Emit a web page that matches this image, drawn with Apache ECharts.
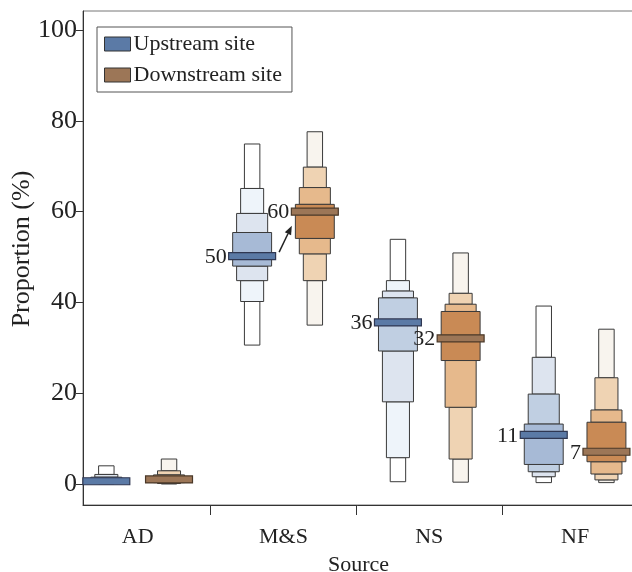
<!DOCTYPE html>
<html>
<head>
<meta charset="utf-8">
<title>Source proportions</title>
<script src="https://cdn.jsdelivr.net/npm/echarts@6/dist/echarts.min.js"></script>
<style>
  html, body { margin: 0; padding: 0; background: #fff; }
  #chart { width: 632px; height: 572px; }
</style>
</head>
<body>
<div id="chart"></div>
<script>
// x categories and the two sites
const categories = ['AD', 'M&S', 'NS', 'NF'];
const sites = ['Upstream site', 'Downstream site'];

// medians (%)
const upMedian = [0.6, 50.2, 35.6, 10.8];
const downMedian = [1.0, 60.0, 32.1, 7.1];
const upLabels = [null, '50', '36', '11'];
const downLabels = [null, '60', '32', '7'];

// letter value edges, top to bottom:
// outer top, 3rd top, 2nd top, inner top | inner bottom, 2nd bottom, 3rd bottom, outer bottom
const upEdges = [
  [4.0, 2.1, 1.5, 1.1, 0.3, 0.2, 0.1, 0.0],
  [74.9, 65.1, 59.6, 55.4, 48.0, 44.8, 40.2, 30.6],
  [53.9, 44.8, 42.5, 41.0, 29.3, 18.1, 5.8, 0.5],
  [39.2, 27.9, 19.8, 13.2, 4.3, 2.7, 1.6, 0.3]
];
const downEdges = [
  [5.5, 2.9, 2.0, 1.5, 0.6, 0.3, 0.1, 0.0],
  [77.6, 69.8, 65.3, 61.6, 54.1, 50.7, 44.8, 35.0],
  [50.9, 42.0, 39.6, 38.0, 27.2, 16.9, 5.5, 0.4],
  [34.1, 23.4, 16.3, 13.6, 4.9, 2.2, 0.9, 0.3]
];

const yTicks = [0, 20, 40, 60, 80, 100];

// styles
const FONT = '"Liberation Serif", "Times New Roman", serif';
const TXT = '#222';
const upShades = ['#ffffff', '#eef4fa', '#dde4ef', '#c0cfe2', '#a7bad6'];
const downShades = ['#f8f4ee', '#efd3b3', '#e6b98c', '#d9a06c', '#c98a55'];
// shade index per level (outer, 3rd, 2nd, inner) for each category
const upLevelShade = [[0, 2, 3, 4], [0, 1, 2, 4], [0, 1, 2, 3], [0, 2, 3, 4]];
const downLevelShade = [[0, 1, 2, 4], [0, 1, 2, 4], [0, 1, 2, 4], [0, 1, 2, 4]];
const levelWidth = [0.106, 0.158, 0.213, 0.267]; // category units
const medianWidth = 0.322;
const dodge = 0.215;
const siteColor = ['#5b7aa6', '#9c7657'];
const siteEdge = ['#2f3752', '#4a3828'];

function boxenItem(site) {
  const shades = site === 0 ? upShades : downShades;
  const levelShade = site === 0 ? upLevelShade : downLevelShade;
  const labels = site === 0 ? upLabels : downLabels;
  return function (params, api) {
    const cat = api.value(0);
    const x = cat + (site === 0 ? -dodge : dodge);
    const unit = api.size([1, 0])[0];
    const lvl = [0, 1, 2, 3, 2, 1, 0];
    const order = [0, 6, 1, 5, 2, 4, 3]; // outer boxes first
    const children = [];
    order.forEach(function (i) {
      const top = api.coord([x, api.value(2 + i)]);
      const bot = api.coord([x, api.value(3 + i)]);
      const w = levelWidth[lvl[i]] * unit;
      children.push({
        type: 'rect',
        shape: { x: top[0] - w / 2, y: top[1], width: w, height: bot[1] - top[1] },
        style: { fill: shades[levelShade[cat][lvl[i]]], stroke: '#3a3a3a', lineWidth: 1 }
      });
    });
    const m = api.coord([x, api.value(1)]);
    const mw = medianWidth * unit;
    children.push({
      type: 'rect',
      shape: { x: m[0] - mw / 2, y: m[1] - 3.5, width: mw, height: 7 },
      style: { fill: siteColor[site], stroke: siteEdge[site], lineWidth: 1.2 }
    });
    if (labels[cat]) {
      children.push({
        type: 'text',
        x: m[0] - mw / 2 - 2,
        y: m[1] + 1,
        style: {
          text: labels[cat], fill: TXT, font: '22px ' + FONT,
          align: 'right', verticalAlign: 'middle'
        }
      });
    }
    return { type: 'group', children: children };
  };
}

function arrowItem(params, api) {
  const cat = api.value(0);
  const a = api.coord([cat - dodge, api.value(1)]);
  const b = api.coord([cat + dodge, api.value(2)]);
  const x1 = a[0] + 27, y1 = a[1] - 4;
  const x2 = b[0] - 23, y2 = b[1] + 14;
  const ang = Math.atan2(y2 - y1, x2 - x1);
  const L = 9, W = 3.5;
  const bx = x2 - L * Math.cos(ang), by = y2 - L * Math.sin(ang);
  const nx = -Math.sin(ang) * W, ny = Math.cos(ang) * W;
  return {
    type: 'group',
    children: [
      { type: 'line', shape: { x1: x1, y1: y1, x2: bx, y2: by }, style: { stroke: '#222', lineWidth: 1.5 } },
      { type: 'polygon', shape: { points: [[x2, y2], [bx + nx, by + ny], [bx - nx, by - ny]] }, style: { fill: '#222' } }
    ]
  };
}

const upData = categories.map((c, i) => [i, upMedian[i]].concat(upEdges[i]));
const downData = categories.map((c, i) => [i, downMedian[i]].concat(downEdges[i]));

const chart = echarts.init(document.getElementById('chart'));
chart.setOption({
  animation: false,
  backgroundColor: '#fff',
  textStyle: { fontFamily: FONT, color: TXT },
  grid: {
    left: 83, right: -2, top: 11, bottom: 67,
    containLabel: false, outerBoundsMode: 'none',
    show: true, borderColor: '#777', borderWidth: 1
  },
  legend: {
    orient: 'vertical', left: 97, top: 27,
    padding: [6, 10, 6, 7], itemGap: 9,
    itemWidth: 26, itemHeight: 14,
    borderColor: '#555', borderWidth: 1, backgroundColor: '#fff',
    textStyle: { fontFamily: FONT, fontSize: 22, color: TXT, padding: [0, 0, 0, -2] },
    data: sites.map((s, i) => ({
      name: s, icon: 'rect',
      itemStyle: { color: siteColor[i], borderColor: '#333', borderWidth: 1 }
    }))
  },
  xAxis: {
    type: 'value', min: -0.375, max: 3.404,
    name: 'Source', nameLocation: 'middle', nameGap: 49,
    nameMoveOverlap: false,
    nameTextStyle: { fontFamily: FONT, fontSize: 22, color: TXT },
    axisLine: { onZero: false, lineStyle: { color: '#333', width: 1 } },
    axisTick: { customValues: [0.5, 1.5, 2.5], length: 10, lineStyle: { color: '#333' } },
    axisLabel: {
      customValues: [0, 1, 2, 3], margin: 21,
      fontFamily: FONT, fontSize: 22, color: TXT,
      formatter: v => categories[Math.round(v)]
    },
    splitLine: { show: false }
  },
  yAxis: {
    type: 'value', min: -4.63, max: 104.2,
    name: 'Proportion (%)', nameLocation: 'middle', nameGap: 48,
    nameMoveOverlap: false,
    nameTextStyle: { fontFamily: FONT, fontSize: 26, color: TXT, padding: [0, 0, 0, 18] },
    axisLine: { show: true, onZero: false, lineStyle: { color: '#333', width: 1 } },
    axisTick: { show: true, customValues: yTicks, length: 7, lineStyle: { color: '#333' } },
    axisLabel: { customValues: yTicks, margin: 6, fontFamily: FONT, fontSize: 26, color: TXT },
    splitLine: { show: false }
  },
  series: [
    { name: sites[0], type: 'custom', renderItem: boxenItem(0), data: upData, encode: { x: 0, y: 1 }, itemStyle: { color: siteColor[0] } },
    { name: sites[1], type: 'custom', renderItem: boxenItem(1), data: downData, encode: { x: 0, y: 1 }, itemStyle: { color: siteColor[1] } },
    { name: 'arrow', type: 'custom', renderItem: arrowItem, data: [[1, upMedian[1], downMedian[1]]], encode: { x: 0, y: 1 }, silent: true }
  ]
});
</script>
</body>
</html>
